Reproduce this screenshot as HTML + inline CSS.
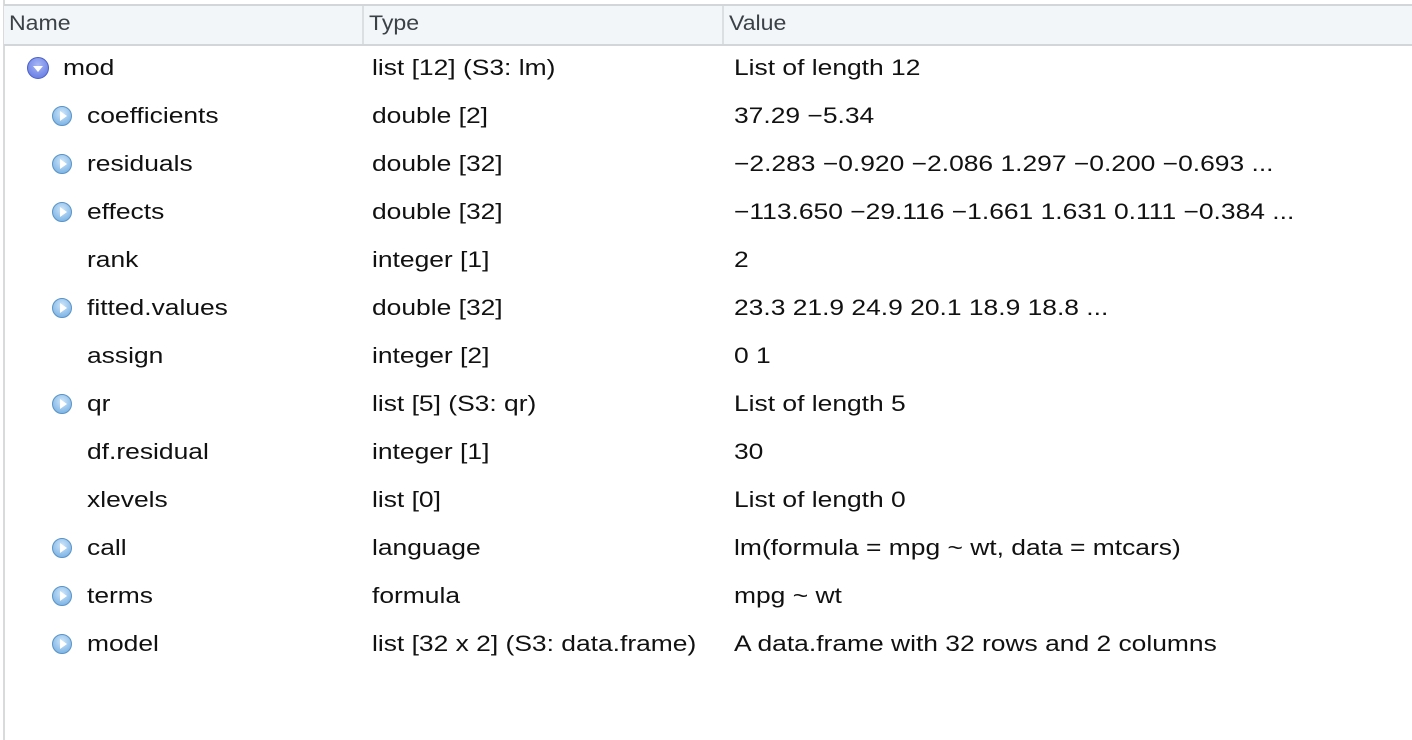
<!DOCTYPE html>
<html><head><style>
body{margin:0;width:1412px;height:740px;background:#fff;font-family:"Liberation Sans",sans-serif;position:relative;overflow:hidden;color:#111}
.hdr{position:absolute;left:4px;top:4px;width:1408px;height:38px;background:#f3f6f8;border-top:2px solid #d3d6d8;border-bottom:2px solid #d3d6d8}
.lb{position:absolute;left:3px;top:0;width:2px;height:740px;background:#d8dadc}
.h{position:absolute;top:12px;font-size:21px;color:#3a4248;transform:scaleX(1.1);transform-origin:0 0}
.div{position:absolute;top:6px;width:2px;height:38px;background:#dcdfe1}
.t{position:absolute;font-size:22px;white-space:nowrap;line-height:26px;transform:scaleX(1.2);transform-origin:0 0}
.ic{position:absolute;width:20px;height:20px;border-radius:50%;background:radial-gradient(circle at 50% 35%,#cfe6fa,#6aa9e0);border:1px solid #5b93c8;box-sizing:border-box}
.ic:after{content:"";position:absolute;left:7px;top:4px;border-left:7px solid #fff;border-top:5px solid transparent;border-bottom:5px solid transparent}
.icd{position:absolute;width:22px;height:22px;border-radius:50%;background:radial-gradient(circle at 50% 35%,#a9b8f5,#5a72e0);border:1px solid #4a5fc8;box-sizing:border-box}
.icd:after{content:"";position:absolute;left:5px;top:8px;border-top:6px solid #fff;border-left:5px solid transparent;border-right:5px solid transparent}
</style></head><body>
<div class="lb"></div>
<div class="hdr"></div>
<div class="h" style="left:9px">Name</div>
<div class="div" style="left:362px"></div>
<div class="h" style="left:369px">Type</div>
<div class="div" style="left:722px"></div>
<div class="h" style="left:729px">Value</div>

<div class="icd" style="left:27px;top:57px"></div>
<div class="t" style="left:63px;top:55px">mod</div>
<div class="t" style="left:372px;top:55px">list [12] (S3: lm)</div>
<div class="t" style="left:734px;top:55px">List of length 12</div>

<div class="ic" style="left:52px;top:106px"></div>
<div class="t" style="left:87px;top:103px">coefficients</div>
<div class="t" style="left:372px;top:103px">double [2]</div>
<div class="t" style="left:734px;top:103px">37.29 −5.34</div>

<div class="ic" style="left:52px;top:154px"></div>
<div class="t" style="left:87px;top:151px">residuals</div>
<div class="t" style="left:372px;top:151px">double [32]</div>
<div class="t" style="left:734px;top:151px">−2.283 −0.920 −2.086 1.297 −0.200 −0.693 ...</div>

<div class="ic" style="left:52px;top:202px"></div>
<div class="t" style="left:87px;top:199px">effects</div>
<div class="t" style="left:372px;top:199px">double [32]</div>
<div class="t" style="left:734px;top:199px">−113.650 −29.116 −1.661 1.631 0.111 −0.384 ...</div>

<div class="t" style="left:87px;top:247px">rank</div>
<div class="t" style="left:372px;top:247px">integer [1]</div>
<div class="t" style="left:734px;top:247px">2</div>

<div class="ic" style="left:52px;top:298px"></div>
<div class="t" style="left:87px;top:295px">fitted.values</div>
<div class="t" style="left:372px;top:295px">double [32]</div>
<div class="t" style="left:734px;top:295px">23.3 21.9 24.9 20.1 18.9 18.8 ...</div>

<div class="t" style="left:87px;top:343px">assign</div>
<div class="t" style="left:372px;top:343px">integer [2]</div>
<div class="t" style="left:734px;top:343px">0 1</div>

<div class="ic" style="left:52px;top:394px"></div>
<div class="t" style="left:87px;top:391px">qr</div>
<div class="t" style="left:372px;top:391px">list [5] (S3: qr)</div>
<div class="t" style="left:734px;top:391px">List of length 5</div>

<div class="t" style="left:87px;top:439px">df.residual</div>
<div class="t" style="left:372px;top:439px">integer [1]</div>
<div class="t" style="left:734px;top:439px">30</div>

<div class="t" style="left:87px;top:487px">xlevels</div>
<div class="t" style="left:372px;top:487px">list [0]</div>
<div class="t" style="left:734px;top:487px">List of length 0</div>

<div class="ic" style="left:52px;top:538px"></div>
<div class="t" style="left:87px;top:535px">call</div>
<div class="t" style="left:372px;top:535px">language</div>
<div class="t" style="left:734px;top:535px">lm(formula = mpg ~ wt, data = mtcars)</div>

<div class="ic" style="left:52px;top:586px"></div>
<div class="t" style="left:87px;top:583px">terms</div>
<div class="t" style="left:372px;top:583px">formula</div>
<div class="t" style="left:734px;top:583px">mpg ~ wt</div>

<div class="ic" style="left:52px;top:634px"></div>
<div class="t" style="left:87px;top:631px">model</div>
<div class="t" style="left:372px;top:631px">list [32 x 2] (S3: data.frame)</div>
<div class="t" style="left:734px;top:631px">A data.frame with 32 rows and 2 columns</div>
</body></html>
